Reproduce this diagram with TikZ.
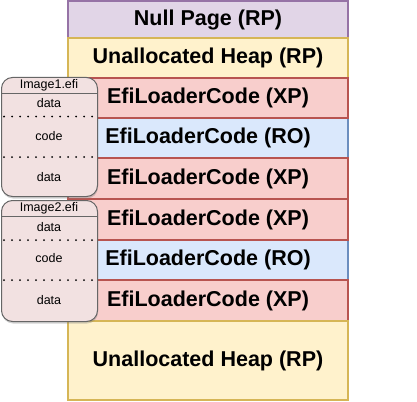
\documentclass[tikz,border=0pt]{standalone}
\usepackage{fontspec}
\setmainfont{Liberation Sans}
\usetikzlibrary{shadows}
\definecolor{purpf}{HTML}{E1D5E7}\definecolor{purps}{HTML}{9673A6}
\definecolor{yelf}{HTML}{FFF2CC}\definecolor{yels}{HTML}{D6B656}
\definecolor{redf}{HTML}{F8CECC}\definecolor{reds}{HTML}{B85450}
\definecolor{bluf}{HTML}{DAE8FC}\definecolor{blus}{HTML}{6C8EBF}
\definecolor{imgf}{HTML}{F2E1E1}\definecolor{imgs}{HTML}{666666}
\begin{document}
\begin{tikzpicture}[x=1pt,y=-1pt,
  band/.style={draw, line width=2pt, minimum width=280pt, anchor=north west, inner sep=0pt,
    font=\fontsize{21.5}{25}\selectfont\bfseries},
  imgbox/.style={draw=imgs, fill=imgf, line width=1pt, rounded corners=11pt, anchor=north west,
    minimum width=96pt, inner sep=0pt, drop shadow={shadow xshift=0.5pt, shadow yshift=-2pt, opacity=0.35}},
  small/.style={font=\fontsize{12.5}{14}\selectfont},
  sep/.style={line width=2pt, black, line cap=round, dash pattern=on 0pt off 8pt},
  ]
\useasboundingbox (0,0) rectangle (417,401);
\node[band, fill=purpf, draw=purps, minimum height=37pt] (np) at (67,0) {Null Page (RP)};
\node[band, fill=yelf, draw=yels, minimum height=40pt] (uh1) at (67,37) {Unallocated Heap (RP)};
\node[band, fill=bluf, draw=blus, minimum height=40pt] (a2) at (67,117) {EfiLoaderCode (RO)};
\node[band, fill=bluf, draw=blus, minimum height=40pt] (b2) at (67,239) {EfiLoaderCode (RO)};
\node[band, fill=redf, draw=reds, minimum height=40pt] (a1) at (67,77) {EfiLoaderCode (XP)};
\node[band, fill=redf, draw=reds, minimum height=41pt] (a3) at (67,157) {EfiLoaderCode (XP)};
\node[band, fill=redf, draw=reds, minimum height=41pt] (b1) at (67,198) {EfiLoaderCode (XP)};
\node[band, fill=redf, draw=reds, minimum height=41pt] (b3) at (67,279) {EfiLoaderCode (XP)};
\node[band, fill=yelf, draw=yels, minimum height=79pt] (uh2) at (67,320) {Unallocated Heap (RP)};
% Image1
\node[imgbox, minimum height=119pt] (i1) at (1,77) {};
\draw[imgs, line width=1pt] (1,93.5) -- (97,93.5);
\node[small] (i1t) at (49,85) {Image1.efi};
\node[small] (i1d1) at (49,103) {data};
\draw[sep] (4,116.5) -- (96,116.5);
\node[small] (i1c) at (49,136) {code};
\draw[sep] (4,157) -- (96,157);
\node[small] (i1d2) at (49,177.5) {data};
% Image2
\node[imgbox, minimum height=121pt] (i2) at (1,200) {};
\draw[imgs, line width=1pt] (1,216.5) -- (97,216.5);
\node[small] (i2t) at (49,208) {Image2.efi};
\node[small] (i2d1) at (49,227.5) {data};
\draw[sep] (4,240) -- (96,240);
\node[small] (i2c) at (49,258.5) {code};
\draw[sep] (4,280) -- (96,280);
\node[small] (i2d2) at (49,300) {data};
\end{tikzpicture}
\end{document}
